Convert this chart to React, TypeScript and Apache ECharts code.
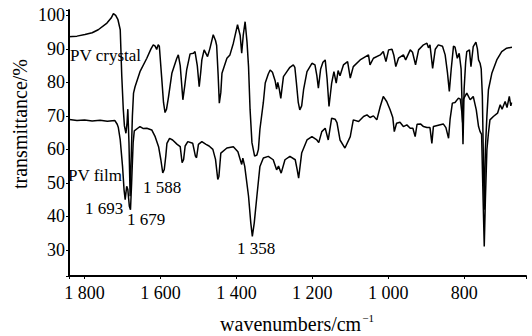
import React, { useEffect, useRef } from "react";
import * as echarts from "echarts";

const xTicks = [1800, 1600, 1400, 1200, 1000, 800];
const yTicks = [30, 40, 50, 60, 70, 80, 90, 100];

const crystal: [number, number][] = [
  [1843, 93.6], [1820, 93.8], [1799, 94.3], [1780, 94.8], [1764, 95.7], [1741, 97.7], [1730, 99.2], [1724, 100.5],
  [1718, 100.0], [1712, 98.7], [1706, 95.7], [1702, 82], [1698, 72], [1695, 67], [1691, 64.8], [1688, 68], [1686, 72],
  [1683, 62], [1680, 46], [1677, 58], [1674, 70], [1671, 76.8], [1667, 78.7], [1654, 83.2], [1636, 87.2], [1625, 90],
  [1619, 91.2], [1614, 90.8], [1610, 89.8], [1606, 91.2], [1603, 90.8], [1597, 81.7], [1592, 74], [1588, 71], [1584, 72],
  [1579, 75.5], [1570, 82.7], [1557, 87.2], [1553, 88.2], [1548, 85], [1541, 74.8], [1536, 79], [1531, 83.7], [1522, 88.5],
  [1513, 88.7], [1509, 89.2], [1503, 85], [1498, 78.7], [1494, 83], [1491, 86.7], [1485, 89.7], [1476, 87.7], [1470, 90],
  [1461, 94.2], [1455, 92.5], [1452, 91], [1448, 82], [1445, 73.8], [1441, 77], [1438, 82.7], [1425, 87.2], [1417, 88.2],
  [1408, 91.7], [1397, 97.2], [1390, 94], [1386, 88.7], [1382, 94], [1377, 98.1], [1372, 92], [1368, 84.7], [1364, 72],
  [1359, 62], [1352, 58], [1346, 58.3], [1342, 60], [1338, 66], [1329, 74], [1324, 79.8], [1316, 82.5], [1311, 83.7],
  [1305, 83], [1298, 80.5], [1294, 78], [1291, 80], [1287, 78], [1283, 75.2], [1279, 79], [1276, 81.7], [1267, 83.2],
  [1259, 84.5], [1250, 85.2], [1246, 84.5], [1242, 80], [1237, 74], [1233, 71.8], [1228, 73], [1223, 77.8], [1214, 83.2],
  [1201, 85.7], [1193, 85.2], [1188, 82], [1184, 78.3], [1178, 84], [1172, 86], [1166, 86.7], [1161, 81], [1156, 72.8],
  [1149, 79.8], [1143, 83.2], [1137, 79.8], [1132, 83.5], [1127, 82], [1118, 85.2], [1107, 86.2], [1100, 81.3],
  [1092, 84.7], [1074, 86.7], [1052, 88.2], [1048, 85.2], [1039, 87.2], [1021, 88.2], [1013, 89.2], [1006, 86.2],
  [999, 89.7], [990, 89.9], [985, 88], [980, 84.7], [973, 87.2], [960, 88.2], [954, 86.7], [942, 89.7], [936, 89],
  [928, 85.2], [920, 89.7], [907, 91.2], [898, 91.7], [894, 90.3], [890, 91.2], [883, 84.2], [876, 89.9], [868, 91.2],
  [857, 90.8], [850, 88.2], [844, 83], [839, 77.3], [834, 84], [828, 90.8], [824, 90.5], [818, 87.2], [813, 88.7],
  [808, 84], [805, 72], [803, 61.5], [800, 78], [796, 86], [793, 89.2], [786, 89.7], [782, 84.7], [776, 90.7], [769, 92],
  [765, 90], [762, 86.7], [758, 85.7], [755, 84], [752, 76], [749, 55], [747, 42], [744, 60], [740, 70], [736, 77.8],
  [727, 82.7], [714, 86.7], [701, 89.2], [688, 90.2], [674, 90.5],
];

const film: [number, number][] = [
  [1840, 68.9], [1820, 68.6], [1800, 68.8], [1780, 68.5], [1759, 68.7], [1740, 68.4], [1720, 68.6], [1714, 67.5],
  [1711, 66.5], [1706, 62.8], [1700, 55], [1696, 48], [1693, 45], [1689, 49], [1686, 48], [1682, 43], [1679, 42],
  [1676, 50], [1672, 62], [1669, 65.5], [1660, 66.3], [1654, 66.8], [1645, 66.2], [1636, 66.3], [1623, 65.8],
  [1614, 63.8], [1605, 60.8], [1599, 56.9], [1594, 53], [1590, 54], [1586, 58], [1583, 61.8], [1576, 63.3],
  [1568, 62.8], [1556, 61.5], [1548, 60.8], [1543, 56], [1539, 57], [1535, 61], [1528, 62.3], [1515, 61.8],
  [1508, 58], [1505, 57.5], [1500, 61.5], [1491, 62.3], [1480, 61.5], [1472, 61], [1462, 60], [1455, 57], [1449, 51],
  [1446, 52], [1441, 58.9], [1425, 60.4], [1408, 60.8], [1396, 59.3], [1390, 57], [1386, 55.5], [1383, 57.4],
  [1378, 54.9], [1368, 46], [1362, 38], [1358, 34], [1353, 38], [1346, 46], [1338, 54.9], [1329, 57.4], [1316, 57.9],
  [1303, 56.9], [1294, 53.9], [1289, 55], [1282, 52.9], [1272, 56.9], [1259, 57.9], [1245, 56.9], [1240, 54],
  [1236, 51.4], [1228, 58.9], [1214, 62.8], [1201, 63.8], [1188, 62.8], [1183, 62], [1175, 65.3], [1166, 66.3],
  [1158, 62.8], [1149, 69.3], [1140, 69], [1135, 68], [1127, 62.8], [1114, 60.4], [1100, 63.8], [1092, 68.8],
  [1078, 68.3], [1065, 69.8], [1056, 70.3], [1048, 69.5], [1039, 70], [1030, 68.8], [1021, 72.8], [1013, 75.8],
  [1004, 74.3], [995, 71.8], [988, 69.5], [984, 65.3], [978, 67.8], [969, 68.1], [960, 66.8], [951, 67.3], [942, 66.3],
  [935, 66.3], [929, 63.8], [924, 67.5], [915, 67.6], [907, 66.8], [898, 66.5], [890, 66.5], [885, 61.8], [881, 66.8],
  [868, 67.2], [855, 67.6], [848, 66.5], [841, 63.3], [837, 69], [831, 73.8], [824, 74], [815, 75.3], [810, 75],
  [806, 71], [804, 68], [802, 75], [793, 76.8], [784, 74.8], [776, 75.8], [768, 71.8], [762, 66.8], [758, 65.3],
  [754, 64.5], [750, 45], [747, 31], [744, 45], [740, 59.9], [736, 64.8], [732, 68.8], [723, 69.8], [712, 70.8],
  [705, 73.3], [700, 72], [692, 74.3], [687, 72.5], [681, 75.8], [677, 73], [675, 74],
];

const annotations = [
  { text: "PV crystal", x: 70, y: 55, align: "left" },
  { text: "PV film", x: 68, y: 175, align: "left" },
  { text: "1 693", x: 85, y: 208, align: "left" },
  { text: "1 679", x: 127, y: 219, align: "left" },
  { text: "1 588", x: 143, y: 187, align: "left" },
  { text: "1 358", x: 237, y: 248, align: "left" },
];

const FONT = "Liberation Serif";

function fmtWave(v: number): string {
  if (!xTicks.includes(v)) return "";
  const s = String(v);
  return s.length > 3 ? s.slice(0, s.length - 3) + " " + s.slice(-3) : s;
}

export default function App() {
  const ref = useRef<HTMLDivElement>(null);
  useEffect(() => {
    if (!ref.current) return;
    const chart = echarts.init(ref.current, undefined, { renderer: "svg" });
    chart.setOption({
      animation: false,
      backgroundColor: "#fff",
      textStyle: { fontFamily: FONT },
      grid: { left: 69, right: 6, top: 10, bottom: 60 },
      xAxis: {
        type: "value",
        inverse: true,
        min: 637,
        max: 1841,
        splitLine: { show: false },
        axisLine: { lineStyle: { color: "#000", width: 2 } },
        axisTick: { length: 3, lineStyle: { color: "#000", width: 1 } },
        axisLabel: {
          color: "#000",
          fontFamily: FONT,
          fontSize: 18,
          margin: 8,
          formatter: (v: number) => fmtWave(v),
        },
      },
      yAxis: {
        type: "value",
        min: 22.2,
        max: 101.6,
        splitNumber: 8,
        splitLine: { show: false },
        axisLine: { show: true, lineStyle: { color: "#000", width: 2 } },
        axisTick: { show: true, length: 3, lineStyle: { color: "#000", width: 1 } },
        axisLabel: {
          color: "#000",
          fontFamily: FONT,
          fontSize: 18,
          margin: 4,
          formatter: (v: number) => (yTicks.includes(v) ? String(v) : ""),
        },
      },
      series: [
        {
          name: "PV crystal",
          type: "line",
          data: crystal,
          showSymbol: false,
          lineStyle: { color: "#000", width: 1.5 },
        },
        {
          name: "PV film",
          type: "line",
          data: film,
          showSymbol: false,
          lineStyle: { color: "#000", width: 1.5 },
        },
      ],
      graphic: [
        ...annotations.map((a) => ({
          type: "text",
          x: a.x,
          y: a.y,
          style: {
            text: a.text,
            fill: "#000",
            fontFamily: FONT,
            fontSize: 17,
            textAlign: a.align,
            textVerticalAlign: "middle",
          },
          z: 10,
        })),
        {
          type: "text",
          x: 20,
          y: 124,
          rotation: Math.PI / 2,
          style: {
            text: "transmittance/%",
            fill: "#000",
            fontFamily: FONT,
            fontSize: 20,
            textAlign: "center",
            textVerticalAlign: "middle",
          },
        },
        {
          type: "text",
          x: 297,
          y: 323,
          style: {
            text: "{a|wavenumbers/cm}{b|−1}",
            fill: "#000",
            textAlign: "center",
            textVerticalAlign: "middle",
            rich: {
              a: { fontFamily: FONT, fontSize: 20, fill: "#000", lineHeight: 22, verticalAlign: "bottom" },
              b: { fontFamily: FONT, fontSize: 11, fill: "#000", lineHeight: 22, verticalAlign: "top", padding: [0, 0, 12, 1] },
            },
          },
        },
      ],
    });
    return () => chart.dispose();
  }, []);
  return (
    <div
      ref={ref}
      style={{ position: "fixed", left: 0, top: 0, width: 532, height: 336, background: "#fff" }}
    />
  );
}
